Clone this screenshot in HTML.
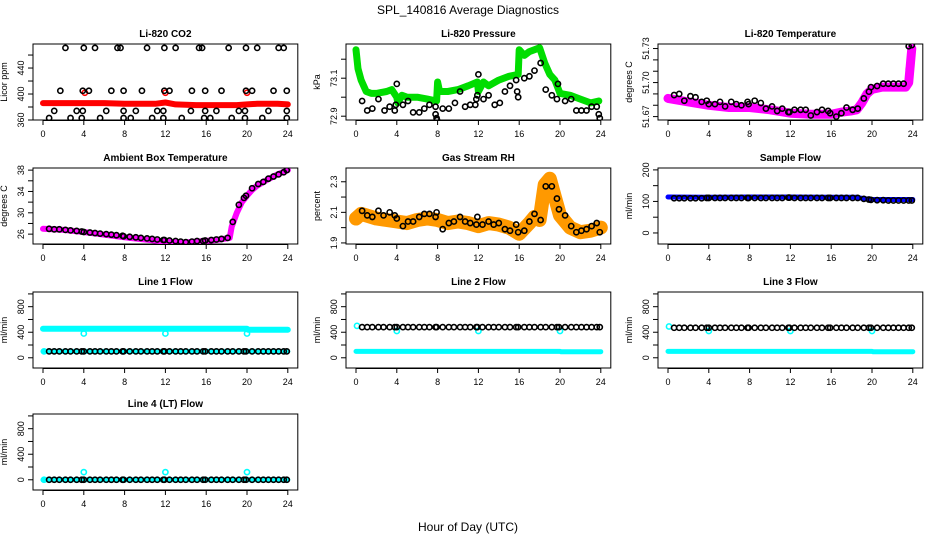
<!DOCTYPE html>
<html><head><meta charset="utf-8"><style>
body{margin:0;background:#fff;}
svg text{font-family:"Liberation Sans",Arial,sans-serif;}
</style></head><body>
<svg id="c" width="936" height="540" viewBox="0 0 936 540">
<text x="468" y="14" text-anchor="middle" font-size="12">SPL_140816  Average Diagnostics</text>
<text x="468" y="531" text-anchor="middle" font-size="12">Hour of Day (UTC)</text>
</svg>
<script>
// shared sample times for black hourly-average points
const sampleTimes=[0.6,1.1,1.6,2.2,2.7,3.3,3.8,4.0,4.6,5.1,5.6,6.2,6.7,7.2,7.8,7.9,8.5,9.1,9.6,10.2,10.7,11.2,11.8,11.9,12.4,13.0,13.5,14.0,14.6,15.1,15.7,15.9,16.5,17.0,17.5,18.1,18.6,19.2,19.7,19.9,20.5,21.1,21.6,22.1,22.6,23.1,23.6,23.9];
// CO2
const co2BlackX=[2.2,4,5.1,7.3,7.6,10.2,11.9,13,15.3,15.6,18.2,19.9,21,23.1,23.6,1.7,3.9,4.5,6.7,7.9,9.7,11.9,12.4,14.6,15.9,17.5,19.9,20.5,22.6,23.9,1.1,3.3,3.9,6.2,7.9,9.1,11.2,11.8,14.5,15.9,17,19.2,19.8,22.1,23.9,0.6,2.7,3.8,5.6,7.9,8.6,10.7,11.8,13.6,15.8,16.4,18.5,19.8,21.5,23.9];
const co2BlackY=[471,471,471,471,471,471,471,471,471,471,471,471,471,471,471,405,405,405,405,405,405,405,405,405,405,405,405,405,405,405,374,374,374,374,374,374,374,374,374,374,374,374,374,374,374,363,363,363,363,363,363,363,363,363,363,363,363,363,363,363];
const co2RedX=[0,2,4,6,8,10,11,12,13,15,17,19,20,21,23,24];
const co2RedY=[386,386,386,386,385,385,385,387,384,383,383,383,384,385,385,384];
const co2OutX=[4.1,12,20];
const co2OutY=[402,402,402];
// Pressure
const presGreenX=[0,0.2,0.5,1,1.5,2,3,3.5,4,4.1,4.5,5,6,7,7.9,8.0,8.2,9,10,11,11.9,12,12.5,13,14,15,15.9,16,16.5,17,18,18.5,19,19.5,20,21,22,23,23.8];
const presGreenY=[73.25,73.15,73.09,73.03,73.02,73.02,73.03,73.04,73.0,72.97,73.01,73.0,73.0,72.99,72.98,73.08,73.03,73.03,73.04,73.06,73.08,73.03,73.08,73.06,73.09,73.11,73.12,73.25,73.22,73.24,73.26,73.18,73.12,73.09,73.02,73.01,72.99,72.97,72.98];
const presBlackX=[0.6,1.1,1.6,2.2,2.8,3.3,3.8,3.9,4,4.6,5.1,5.6,6.2,6.7,7.2,7.8,7.8,7.9,7.95,8.5,9.1,9.7,10.2,10.7,11.2,11.7,11.8,11.9,12,12.5,13,13.6,14.1,14.6,15.1,15.7,15.8,15.9,16.5,17,17.5,18.1,18.6,19.2,19.7,19.8,20.5,21.1,21.6,22.1,22.6,23.1,23.6,23.8,23.9];
const presBlackY=[72.98,72.93,72.94,72.99,72.93,72.95,72.93,72.96,73.07,72.96,72.98,72.92,72.92,72.94,72.96,72.95,72.91,72.89,72.88,72.94,72.94,72.97,73.03,72.95,72.96,72.96,72.99,73.01,73.12,72.99,73.01,72.96,72.97,73.03,73.06,73.09,73.03,73.0,73.1,73.11,73.14,73.18,73.04,73.01,72.99,73.07,72.98,72.99,72.93,72.93,72.93,72.95,72.95,72.91,72.89];
// Li-820 temperature
const tempMagX=[0,2,4,6,8,10,12,14,16,17,18,18.5,19,19.5,20,21,23.3,23.6,23.9];
const tempMagY=[51.686,51.683,51.680,51.678,51.678,51.676,51.673,51.672,51.672,51.674,51.675,51.676,51.682,51.690,51.694,51.696,51.696,51.700,51.730];
const tempBlack=[51.689,51.690,51.684,51.688,51.687,51.683,51.684,51.681,51.681,51.683,51.679,51.683,51.681,51.680,51.683,51.681,51.684,51.682,51.677,51.679,51.675,51.677,51.674,51.674,51.676,51.676,51.676,51.671,51.674,51.676,51.675,51.673,51.670,51.673,51.678,51.676,51.677,51.686,51.692,51.696,51.697,51.699,51.699,51.699,51.699,51.699,51.732,51.733];
// Ambient box temperature
const ambMagX=[0,2,4,6,8,10,12,13.5,15,17,18.3,18.5,19,19.5,20,20.5,21,22,23,24];
const ambMagY=[27,26.8,26.4,25.9,25.4,25.0,24.6,24.4,24.6,24.9,25.3,27.4,30,32,33.2,34.3,35.1,36.2,37.2,38];
const ambBlack=[27,26.9,26.9,26.8,26.7,26.6,26.5,26.4,26.3,26.2,26.1,26.0,25.9,25.8,25.7,25.6,25.5,25.4,25.3,25.2,25.1,25.0,24.9,24.9,24.8,24.7,24.6,24.5,24.6,24.7,24.7,24.8,24.9,25.0,25.1,25.3,28.3,31.5,32.8,33.2,34.6,35.4,35.8,36.4,36.8,37.2,37.6,38.0];
// Gas stream RH
const rhOrX=[0,0.5,1,2,3,4,5,6,7,8,9,10,11,12,13,14,15,16,17,17.5,18,18.5,19,19.5,20,21,22,23,24];
const rhOrY=[2.06,2.09,2.08,2.06,2.05,2.04,2.03,2.05,2.06,2.05,2.03,2.04,2.03,2.01,2.03,2.02,2.0,1.96,2.03,2.07,2.05,2.28,2.32,2.2,2.08,2.0,1.97,1.98,2.0];
const rhBlack=[2.11,2.08,2.07,2.11,2.08,2.10,2.08,2.06,2.01,2.04,2.04,2.07,2.09,2.09,2.07,2.10,1.99,2.03,2.04,2.07,2.04,2.03,2.02,2.07,2.02,2.04,2.02,2.03,1.99,1.98,2.02,1.97,1.98,2.04,2.09,2.05,2.27,2.27,2.19,2.12,2.08,2.01,1.97,1.98,1.99,2.01,2.03,1.97];
// Sample flow
const sfBlueX=[0,4,8,12,16,18.5,19,20,22,24];
const sfBlueY=[114,113,114,114,113,113,110,106,106,106];
const sfBlack=[110,110,110,110,110,110,111,111,111,111,111,111,111,111,111,111,111,111,111,111,111,111,112,112,111,111,111,111,111,111,111,111,111,111,111,111,111,108,106,105,104,104,103,103,103,103,103,103];
// Line flows
const flowCyanX=[0,4,8,12,16,20,20.1,24];
const l1CyanHigh=[455,455,455,455,455,455,440,440];
const l1CyanLow=[100,100,100,100,100,100,100,100];
const l1Black=[100,100,100,100,100,100,100,100,100,100,100,100,100,100,100,100,100,100,100,100,100,100,100,100,100,100,100,100,100,100,100,100,100,100,100,100,100,100,100,100,100,100,100,100,100,100,100,100];
const l2CyanLow=[100,100,100,100,100,100,95,95];
const l2Black=[480,480,480,480,480,480,480,480,480,480,480,480,480,480,480,480,480,480,480,480,480,480,480,480,480,480,480,480,480,480,480,480,480,480,480,480,480,480,480,480,480,480,480,480,480,480,480,480];
const l3CyanLow=[100,100,100,100,100,100,95,95];
const l3Black=[470,470,470,470,470,470,470,470,470,470,470,470,470,470,470,470,470,470,470,470,470,470,470,470,470,470,470,470,470,470,470,470,470,470,470,470,470,470,470,470,470,470,470,470,470,470,470,470];
const l4CyanLow=[0,0,0,0,0,0,0,0];
const l4Black=[0,0,0,0,0,0,0,0,0,0,0,0,0,0,0,0,0,0,0,0,0,0,0,0,0,0,0,0,0,0,0,0,0,0,0,0,0,0,0,0,0,0,0,0,0,0,0,0];
const outX=[4,12,20];
const l1Out=[380,380,380];
const l2Out=[420,420,420];
const l3Out=[420,420,420];
const l4Out=[120,120,120];
const xTicks=[0,4,8,12,16,20,24];

const NS='http://www.w3.org/2000/svg';
const svg=document.getElementById('c');
function mk(tag,attrs,parent){const e=document.createElementNS(NS,tag);for(const k in attrs)e.setAttribute(k,attrs[k]);(parent||svg).appendChild(e);return e;}
const colX=[43,356,668], hourPx=10.2;
const rowTop=[44,168,292,414], rowH=76;

function panel(o){
  const g=mk('g',{});
  
  
  const x0=colX[o.col], top=rowTop[o.row], bot=top+rowH;
  const left=x0-10, right=x0+24*hourPx+10;
  const sx=v=>x0+v*hourPx;
  const sy=v=>bot-(v-o.ymin)/(o.ymax-o.ymin)*rowH;
  const box=mk('rect',{x:left,y:top,width:right-left,height:rowH,fill:'none',stroke:'#000','stroke-width':1},g);
  
  
  const t=mk('text',{x:(left+right)/2,y:top-7,'text-anchor':'middle','font-size':10,'font-weight':'bold'},g);
  t.textContent=o.title;
  
  
  xTicks.forEach(v=>{
    mk('line',{x1:sx(v),x2:sx(v),y1:bot,y2:bot+5,stroke:'#000'},g);
    const l=mk('text',{x:sx(v),y:bot+17,'text-anchor':'middle','font-size':9},g);
    l.textContent=v;
    
    
  });
  mk('line',{x1:sx(0),x2:sx(24),y1:bot+0.5,y2:bot+0.5,stroke:'#000'},g);
  o.yTicks.forEach(v=>{
    const y=sy(v);
    mk('line',{x1:left-5,x2:left,y1:y,y2:y,stroke:'#000'},g);
  });
  o.yLabels.forEach(v=>{
    const y=sy(v);
    const l=mk('text',{x:left-9,y:y,'text-anchor':'middle','font-size':9,transform:`rotate(-90 ${left-9} ${y})`},g);
    l.textContent=v;
    
    
  });
  const yt=mk('text',{x:left-26,y:(top+bot)/2,'text-anchor':'middle','font-size':9,transform:`rotate(-90 ${left-26} ${(top+bot)/2})`},g);
  yt.textContent=o.ylab;
  
  
  const clip='clip'+o.name;
  const cp=mk('clipPath',{id:clip},g);mk('rect',{x:left,y:top,width:right-left,height:rowH},cp);
  const dg=mk('g',{'clip-path':`url(#${clip})`},g);
  return {sx,sy,g:dg};
}
function band(p,xs,ys,color,w,name){
  const pts=xs.map((x,i)=>p.sx(x).toFixed(1)+','+p.sy(ys[i]).toFixed(1)).join(' ');
  const pl=mk('polyline',{points:pts,fill:'none',stroke:color,'stroke-width':w,'stroke-linejoin':'round','stroke-linecap':'round'},p.g);
  
  
}
function pts(p,xs,ys,color,name){
  const n=Math.min(xs.length,ys.length);
  for(let i=0;i<n;i++){
    const c=mk('circle',{cx:p.sx(xs[i]),cy:p.sy(ys[i]),r:2.6,fill:'none',stroke:color,'stroke-width':1.6},p.g);
    
    
  }
}
const flowTicks=[0,200,400,600,800,1000], flowLabels=[0,400,800];

let p=panel({name:'co2-panel',col:0,row:0,title:'Li-820 CO2',ylab:'Licor ppm',ymin:360,ymax:477,yTicks:[360,380,400,420,440,460],yLabels:[360,400,440]});
band(p,co2RedX,co2RedY,'#ff0000',6,'co2-red-series');
pts(p,co2OutX,co2OutY,'#ff0000','co2-red-point');
pts(p,co2BlackX,co2BlackY,'#000','co2-black-point');

p=panel({name:'pressure-panel',col:1,row:0,title:'Li-820 Pressure',ylab:'kPa',ymin:72.88,ymax:73.28,yTicks:[72.9,73.0,73.1,73.2],yLabels:[72.9,73.1]});
band(p,presGreenX,presGreenY,'#00dd00',7,'pressure-green-series');
pts(p,presBlackX,presBlackY,'#000','pressure-black-point');

p=panel({name:'li820-temp-panel',col:2,row:0,title:'Li-820 Temperature',ylab:'degrees C',ymin:51.667,ymax:51.734,yTicks:[51.67,51.68,51.69,51.70,51.71,51.72,51.73],yLabels:['51.67','51.70','51.73']});
band(p,tempMagX,tempMagY,'#ff00ff',9,'temp-magenta-series');
pts(p,[23.6],[51.712],'#ff00ff','temp-magenta-point');
pts(p,sampleTimes,tempBlack,'#000','temp-black-point');

p=panel({name:'ambient-temp-panel',col:0,row:1,title:'Ambient Box Temperature',ylab:'degrees C',ymin:24.15,ymax:38.4,yTicks:[26,28,30,32,34,36,38],yLabels:[26,30,34,38]});
band(p,ambMagX,ambMagY,'#ff00ff',6,'ambient-magenta-series');
pts(p,sampleTimes,ambBlack,'#000','ambient-black-point');

p=panel({name:'rh-panel',col:1,row:1,title:'Gas Stream RH',ylab:'percent',ymin:1.893,ymax:2.39,yTicks:[1.9,2.0,2.1,2.2,2.3],yLabels:[1.9,2.1,2.3]});
band(p,rhOrX,rhOrY,'#ff9900',14,'rh-orange-series');
pts(p,sampleTimes,rhBlack,'#000','rh-black-point');

p=panel({name:'sample-flow-panel',col:2,row:1,title:'Sample Flow',ylab:'ml/min',ymin:-35,ymax:206,yTicks:[0,50,100,150,200],yLabels:[0,100,200]});
band(p,sfBlueX,sfBlueY,'#0000ff',5,'sample-flow-blue-series');
pts(p,sampleTimes,sfBlack,'#000','sample-flow-black-point');

const flows=[
 {name:'line1-flow-panel',col:0,row:2,title:'Line 1 Flow',hi:l1CyanHigh,lo:l1CyanLow,black:l1Black,out:l1Out,first:100},
 {name:'line2-flow-panel',col:1,row:2,title:'Line 2 Flow',hi:null,lo:l2CyanLow,black:l2Black,out:l2Out,first:500},
 {name:'line3-flow-panel',col:2,row:2,title:'Line 3 Flow',hi:null,lo:l3CyanLow,black:l3Black,out:l3Out,first:490},
 {name:'line4-flow-panel',col:0,row:3,title:'Line 4 (LT) Flow',hi:null,lo:l4CyanLow,black:l4Black,out:l4Out,first:0}];
flows.forEach(f=>{
  const q=panel({name:f.name,col:f.col,row:f.row,title:f.title,ylab:'ml/min',ymin:-160,ymax:1030,yTicks:flowTicks,yLabels:flowLabels});
  if(f.hi) band(q,flowCyanX,f.hi,'#00ffff',6,'cyan-high-series');
  band(q,flowCyanX,f.lo,'#00ffff',5,'cyan-low-series');
  pts(q,[0.1],[f.first],'#00ffff','cyan-first-point');
  pts(q,outX,f.out,'#00ffff','cyan-outlier-point');
  pts(q,sampleTimes,f.black,'#000','black-flow-point');
});
</script>
</body></html>
